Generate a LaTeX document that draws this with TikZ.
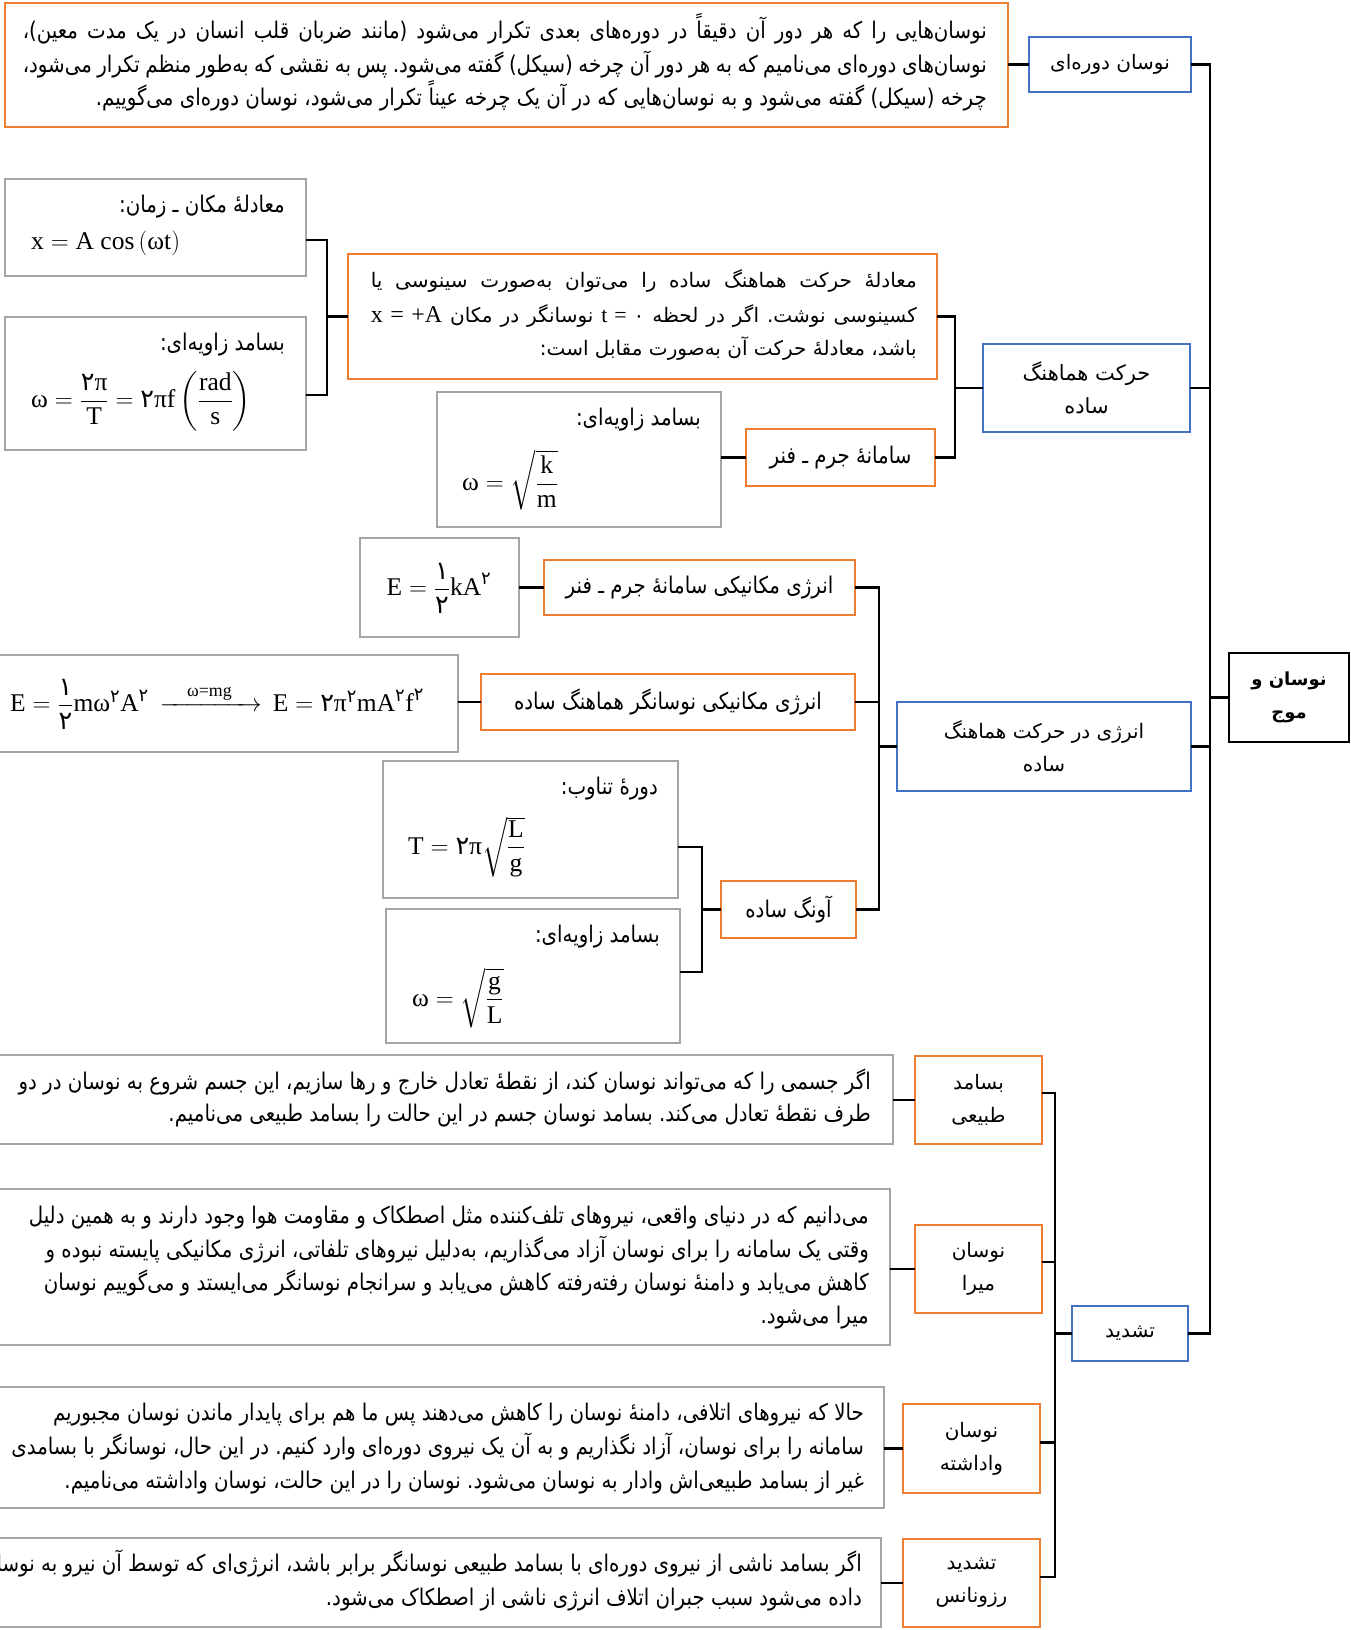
\documentclass[tikz,border=0pt]{standalone}
\usepackage{amsmath}
\usepackage{fontspec}
\TeXXeTstate=1
\frenchspacing
\newfontfamily\fa[Script=Arabic]{DejaVu Sans}
\newfontfamily\fan[Script=Arabic,FakeStretch=0.86]{DejaVu Sans}
\newfontfamily\tm{Liberation Serif}
\definecolor{bluec}{HTML}{4472C4}
\definecolor{orangec}{HTML}{ED7D31}
\definecolor{greyc}{HTML}{A5A5A5}
\newcommand\RL[1]{\beginR#1\endR}
\newcommand\LR[1]{\beginL#1\endL}
\newcommand\JR[2]{\hbox to #1{\beginR#2\endR}}
\newcommand\tmx[1]{\text{\tm #1}}
\newcommand\two{\text{\fa ۲}}
\newcommand\one{\text{\fa ۱}}
\newcommand\zer{{\fa ۰}}
\newcommand\bx[7]{\node[#1, minimum width={(#4)-(#2)}, minimum height={(#5)-(#3)}] (#6) at ({((#2)+(#4))/2},{((#3)+(#5))/2}) {#7};}
\tikzset{
  basebox/.style={inner sep=0pt, outer sep=0pt, line width=2.6pt, align=center, font=\fa\fontsize{20}{33}\selectfont},
  bbox/.style={basebox, draw=bluec},
  bbbox/.style={basebox, draw=bluec, font=\fa\fontsize{21}{33}\selectfont},
  obox/.style={basebox, draw=orangec},
  onbox/.style={basebox, draw=orangec, font=\fan\fontsize{23}{33}\selectfont},
  gbox/.style={basebox, draw=greyc},
  kbox/.style={basebox, draw=black, font=\fa\bfseries\fontsize{18}{33}\selectfont},
  tl/.style={anchor=base east, inner sep=0pt, font=\fan\fontsize{23}{24}\selectfont},
  wl/.style={anchor=base east, inner sep=0pt, font=\fa\fontsize{20}{24}\selectfont},
  eqn/.style={anchor=west, inner sep=0pt, font=\tm\fontsize{25.5}{28}\selectfont},
  conn/.style={line width=2.5pt, black}
}
\begin{document}
\begin{tikzpicture}[x=1pt,y=-1pt]
\useasboundingbox (0,0) rectangle (1351,1630);
\clip (0,0) rectangle (1351,1630);
\fill[white] (0,0) rectangle (1351,1630);
% ---- boxes
\bx{obox}{5}{3}{1008}{127}{top}{}
\bx{bbox}{1029}{37}{1191}{92}{dor}{\RL{نوسان دوره‌ای}}
\bx{kbox}{1229}{653}{1349}{742}{root}{\RL{نوسان و}\\\RL{موج}}
\bx{bbbox}{983}{344}{1190}{432}{shm}{\RL{حرکت هماهنگ}\\\RL{ساده}}
\bx{obox}{348}{254}{937}{379}{eqb}{}
\bx{onbox}{746}{429}{935}{486}{spr}{\RL{سامانهٔ جرم ـ فنر}}
\bx{gbox}{437}{392}{721}{527}{gk}{}
\bx{gbox}{5}{179}{306}{276}{gx}{}
\bx{gbox}{5}{317}{306}{450}{gw}{}
\bx{bbox}{897}{702}{1191}{791}{en}{\RL{انرژی در حرکت هماهنگ}\\\RL{ساده}}
\bx{onbox}{544}{560}{855}{615}{es}{\RL{انرژی مکانیکی سامانهٔ جرم ـ فنر}}
\bx{gbox}{360}{538}{519}{637}{gek}{}
\bx{onbox}{481}{674}{855}{730}{eo}{\RL{انرژی مکانیکی نوسانگر هماهنگ ساده}}
\bx{gbox}{-10}{655}{458}{752}{gew}{}
\bx{onbox}{721}{881}{856}{938}{pend}{\RL{آونگ ساده}}
\bx{gbox}{383}{761}{678}{898}{gp}{}
\bx{gbox}{386}{909}{680}{1043}{gom}{}
\bx{bbox}{1072}{1306}{1188}{1361}{tash}{\RL{تشدید}}
\bx{obox}{915}{1056}{1042}{1144}{nat}{\RL{بسامد}\\\RL{طبیعی}}
\bx{obox}{915}{1225}{1042}{1313}{dmp}{\RL{نوسان}\\\RL{میرا}}
\bx{obox}{903}{1404}{1040}{1493}{drv}{\RL{نوسان}\\\RL{واداشته}}
\bx{obox}{903}{1539}{1040}{1627}{res}{\RL{تشدید}\\\RL{رزونانس}}
\bx{gbox}{-10}{1055}{893}{1144}{g1}{}
\bx{gbox}{-10}{1189}{890}{1345}{g2}{}
\bx{gbox}{-10}{1387}{884}{1508}{g3}{}
\bx{gbox}{-10}{1538}{881}{1627}{g4}{}
% ---- texts: top box
\node[tl] (top1) at (987,38) {\JR{964pt}{نوسان‌هایی را که هر دور آن دقیقاً در دوره‌های بعدی تکرار می‌شود (مانند ضربان قلب انسان در یک مدت معین)،}};
\node[tl] (top2) at (987,72) {\JR{964pt}{نوسان‌های دوره‌ای می‌نامیم که به هر دور آن چرخه (سیکل) گفته می‌شود. پس به نقشی که به‌طور منظم تکرار می‌شود،}};
\node[tl] (top3) at (987,105) {\RL{چرخه (سیکل) گفته می‌شود و به نوسان‌هایی که در آن یک چرخه عیناً تکرار می‌شود، نوسان دوره‌ای می‌گوییم.}};
% eq box
\node[wl] (eq1) at (917,287) {\JR{546pt}{معادلهٔ حرکت هماهنگ ساده را می‌توان به‌صورت سینوسی یا}};
\node[wl] (eq2) at (917,322) {\JR{546pt}{کسینوسی نوشت. اگر در لحظه \LR{{\tm\fontsize{22}{24}\selectfont t = }\zer} نوسانگر در مکان \LR{\tm\fontsize{24}{24}\selectfont x = +A}}};
\node[wl] (eq3) at (917,355) {\RL{باشد، معادلهٔ حرکت آن به‌صورت مقابل است:}};
% grey labels and equations
\node[tl] (gxl) at (285,212) {\RL{معادلهٔ مکان ـ زمان:}};
\node[eqn] (gxe) at (31,243) {$\tmx{x} = \tmx{A cos}\left(\tmx{ωt}\right)$};
\node[tl] (gwl) at (285,350) {\RL{بسامد زاویه‌ای:}};
\node[eqn] (gwe) at (31,401) {$\tmx{ω} = \dfrac{\tmx{\two π}}{\tmx{T}} = \tmx{\two πf}\left(\dfrac{\tmx{rad}}{\tmx{s}}\right)$};
\node[tl] (gkl) at (701,425) {\RL{بسامد زاویه‌ای:}};
\node[eqn] (gke) at (462,480) {$\tmx{ω} = \sqrt{\dfrac{\tmx{k}}{\tmx{m}}}$};
\node[eqn, anchor=center] (geke) at (439,588) {$\tmx{E} = \dfrac{\one}{\two}\tmx{kA}^{\two}$};
\node[eqn] (gewe) at (10,704) {$\tmx{E} = \dfrac{\one}{\two}\tmx{mω}^{\two}\tmx{A}^{\two}\,\xrightarrow{\hspace{22pt}\tmx{ω=mg}\hspace{22pt}}\,\tmx{E} = \tmx{\two π}^{\two}\tmx{mA}^{\two}\tmx{f}^{\two}$};
\node[tl] (gpl) at (658,794) {\RL{دورهٔ تناوب:}};
\node[eqn] (gpe) at (408,847) {$\tmx{T} = \tmx{\two π}\sqrt{\dfrac{\tmx{L}}{\tmx{g}}}$};
\node[tl] (gol) at (660,942) {\RL{بسامد زاویه‌ای:}};
\node[eqn] (goe) at (412,998) {$\tmx{ω} = \sqrt{\dfrac{\tmx{g}}{\tmx{L}}}$};
% grey text boxes
\node[tl] (g1a) at (871,1089) {\RL{اگر جسمی را که می‌تواند نوسان کند، از نقطهٔ تعادل خارج و رها سازیم، این جسم شروع به نوسان در دو}};
\node[tl] (g1b) at (871,1121) {\RL{طرف نقطهٔ تعادل می‌کند. بسامد نوسان جسم در این حالت را بسامد طبیعی می‌نامیم.}};
\node[tl] (g2a) at (869,1223) {\RL{می‌دانیم که در دنیای واقعی، نیروهای تلف‌کننده مثل اصطکاک و مقاومت هوا وجود دارند و به همین دلیل}};
\node[tl] (g2b) at (869,1257) {\RL{وقتی یک سامانه را برای نوسان آزاد می‌گذاریم، به‌دلیل نیروهای تلفاتی، انرژی مکانیکی پایسته نبوده و}};
\node[tl] (g2c) at (869,1290) {\RL{کاهش می‌یابد و دامنهٔ نوسان رفته‌رفته کاهش می‌یابد و سرانجام نوسانگر می‌ایستد و می‌گوییم نوسان}};
\node[tl] (g2d) at (869,1323) {\RL{میرا می‌شود.}};
\node[tl] (g3a) at (864,1420) {\RL{حالا که نیروهای اتلافی، دامنهٔ نوسان را کاهش می‌دهند پس ما هم برای پایدار ماندن نوسان مجبوریم}};
\node[tl] (g3b) at (864,1454) {\RL{سامانه را برای نوسان، آزاد نگذاریم و به آن یک نیروی دوره‌ای وارد کنیم. در این حال، نوسانگر با بسامدی}};
\node[tl] (g3c) at (864,1488) {\RL{غیر از بسامد طبیعی‌اش وادار به نوسان می‌شود. نوسان را در این حالت، نوسان واداشته می‌نامیم.}};
\node[tl] (g4a) at (862,1571) {\RL{اگر بسامد ناشی از نیروی دوره‌ای با بسامد طبیعی نوسانگر برابر باشد، انرژی‌ای که توسط آن نیرو به نوسانگر}};
\node[tl] (g4b) at (862,1605) {\RL{داده می‌شود سبب جبران اتلاف انرژی ناشی از اصطکاک می‌شود.}};
% ---- connectors
\coordinate (tk) at (1210,0);
\coordinate (b1) at (955,0);
\coordinate (b2) at (327,0);
\coordinate (b3) at (879,0);
\coordinate (b4) at (702,0);
\coordinate (b5) at (1055,0);
\draw[conn] (dor.east) -- (dor.east -| tk) -- (tash.east -| tk) -- (tash.east);
\draw[conn] (shm.east) -- (shm.east -| tk);
\draw[conn] (en.east) -- (en.east -| tk);
\draw[conn] (root.west) -- (root.west -| tk);
\draw[conn] (top.east |- dor.west) -- (dor.west);
\draw[conn] (eqb.east) -- (eqb.east -| b1) -- (spr.east -| b1) -- (spr.east);
\draw[conn] (shm.west) -- (shm.west -| b1);
\draw[conn] (spr.west -| gk.east) -- (spr.west);
\draw[conn] ([yshift=-12.5pt]gx.east) -- ([yshift=-12.5pt]gx.east -| b2) -- ([yshift=-11.5pt]gw.east -| b2) -- ([yshift=-11.5pt]gw.east);
\draw[conn] (eqb.west) -- (eqb.west -| b2);
\draw[conn] (es.east) -- (es.east -| b3) -- (pend.east -| b3) -- (pend.east);
\draw[conn] (eo.east) -- (eo.east -| b3);
\draw[conn] (en.west) -- (en.west -| b3);
\draw[conn] (gek.east) -- (es.west);
\draw[conn] (eo.west -| gew.east) -- (eo.west);
\draw[conn] ([yshift=-17.5pt]gp.east) -- ([yshift=-17.5pt]gp.east -| b4) -- ([yshift=4pt]gom.east -| b4) -- ([yshift=4pt]gom.east);
\draw[conn] (pend.west) -- (pend.west -| b4);
\draw[conn] ([yshift=7pt]nat.east) -- ([yshift=7pt]nat.east -| b5) -- ([yshift=6pt]res.east -| b5) -- ([yshift=6pt]res.east);
\draw[conn] ([yshift=7pt]dmp.east) -- ([yshift=7pt]dmp.east -| b5);
\draw[conn] ([yshift=6pt]drv.east) -- ([yshift=6pt]drv.east -| b5);
\draw[conn] (tash.west) -- (tash.west -| b5);
\draw[conn] (g1.east |- nat.west) -- (nat.west);
\draw[conn] (g2.east |- dmp.west) -- (dmp.west);
\draw[conn] (g3.east |- drv.west) -- (drv.west);
\draw[conn] (g4.east |- res.west) -- (res.west);
\end{tikzpicture}
\end{document}
